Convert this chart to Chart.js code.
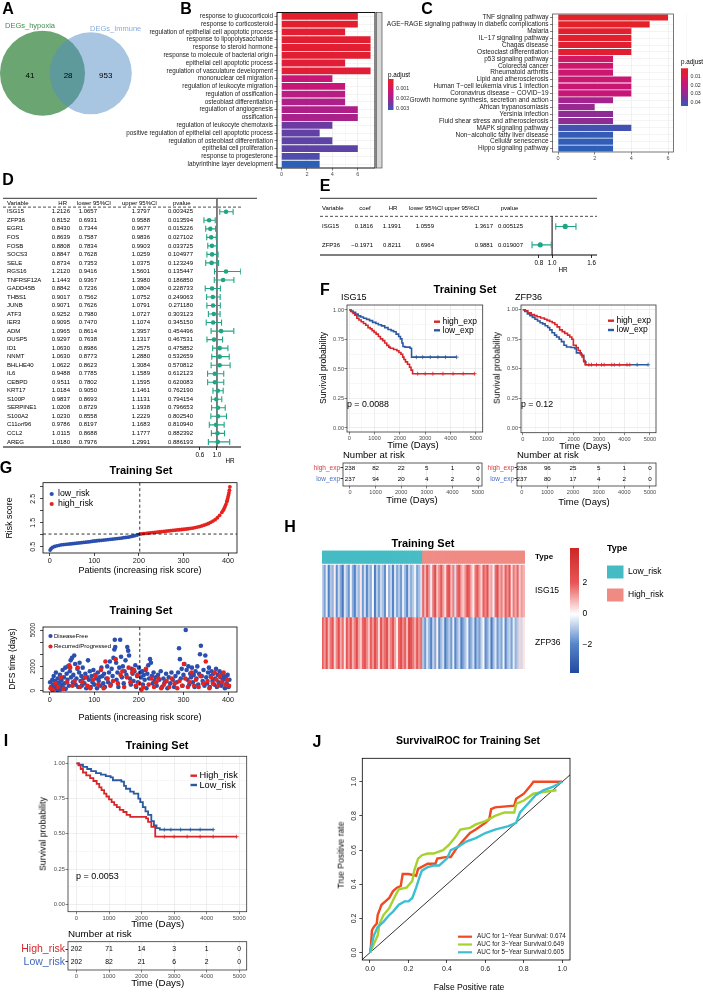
<!DOCTYPE html>
<html>
<head>
<meta charset="utf-8">
<title>Figure</title>
<script src="https://cdn.jsdelivr.net/npm/chart.js@4.4.1/dist/chart.umd.min.js"></script>
<style>
  body { margin: 0; background: #fff; }
  #fig { position: relative; width: 703px; height: 992px; overflow: hidden; font-family: 'Liberation Sans', Arial, sans-serif; }
  #fig canvas { position: absolute; left: 0; top: 0; }
  .t { position: absolute; line-height: 1; white-space: nowrap; }
</style>
</head>
<body>
<div id="fig"></div>
<script>
// ---------- A: Venn ----------
const vennNames = ['DEGs_hypoxia', 'DEGs_Immune'];
const vennCounts = [41, 28, 953]; // hypoxia only, shared, immune only

// ---------- B: GO enrichment ----------
const goTerms = ['response to glucocorticoid', 'response to corticosteroid', 'regulation of epithelial cell apoptotic process',
  'response to lipopolysaccharide', 'response to steroid hormone', 'response to molecule of bacterial origin',
  'epithelial cell apoptotic process', 'regulation of vasculature development', 'mononuclear cell migration',
  'regulation of leukocyte migration', 'regulation of ossification', 'osteoblast differentiation',
  'regulation of angiogenesis', 'ossification', 'regulation of leukocyte chemotaxis',
  'positive regulation of epithelial cell apoptotic process', 'regulation of osteoblast differentiation',
  'epithelial cell proliferation', 'response to progesterone', 'labyrinthine layer development'];
const goCounts = [6, 6, 5, 7, 7, 7, 5, 7, 4, 5, 5, 5, 6, 6, 4, 3, 4, 6, 3, 3];
const goPadj = [0.0001, 0.0001, 0.0002, 0.0002, 0.0002, 0.0002, 0.0003, 0.0003, 0.00124, 0.00124,
  0.00155, 0.0017, 0.0017, 0.0018, 0.00254, 0.00264, 0.00267, 0.00267, 0.0028, 0.0031];
const goLegend = [0.001, 0.002, 0.003];

// ---------- C: KEGG enrichment ----------
const keggTerms = ['TNF signaling pathway', 'AGE\u2212RAGE signaling pathway in diabetic complications', 'Malaria',
  'IL\u221217 signaling pathway', 'Chagas disease', 'Osteoclast differentiation', 'p53 signaling pathway',
  'Colorectal cancer', 'Rheumatoid arthritis', 'Lipid and atherosclerosis', 'Human T\u2212cell leukemia virus 1 infection',
  'Coronavirus disease \u2212 COVID\u221219', 'Growth hormone synthesis, secretion and action', 'African trypanosomiasis',
  'Yersinia infection', 'Fluid shear stress and atherosclerosis', 'MAPK signaling pathway',
  'Non\u2212alcoholic fatty liver disease', 'Cellular senescence', 'Hippo signaling pathway'];
const keggCounts = [6, 5, 4, 4, 4, 4, 3, 3, 3, 4, 4, 4, 3, 2, 3, 3, 4, 3, 3, 3];
const keggPadj = [0.0010, 0.0014, 0.0030, 0.0031, 0.0032, 0.0036, 0.0150, 0.0160, 0.0170, 0.0172,
  0.0175, 0.0180, 0.0270, 0.0290, 0.0305, 0.0310, 0.0410, 0.0430, 0.0432, 0.0437];
const keggLegend = [0.01, 0.02, 0.03, 0.04];

// ---------- D: univariate Cox ----------
const coxGenes = ['ISG15', 'ZFP36', 'EGR1', 'FOS', 'FOSB', 'SOCS3', 'SELE', 'RGS16', 'TNFRSF12A', 'GADD45B', 'THBS1',
  'JUNB', 'ATF3', 'IER3', 'ADM', 'DUSP5', 'ID1', 'NNMT', 'BHLHE40', 'IL6', 'CEBPD', 'KRT17', 'S100P', 'SERPINE1',
  'S100A2', 'C11orf96', 'CCL2', 'AREG'];
const coxHR = [1.2126, 0.8152, 0.8430, 0.8639, 0.8808, 0.8847, 0.8734, 1.2120, 1.1443, 0.8842, 0.9017, 0.9071, 0.9252,
  0.9095, 1.0965, 0.9297, 1.0630, 1.0630, 1.0622, 0.9488, 0.9511, 1.0184, 0.9837, 1.0208, 1.0230, 0.9786, 1.0115, 1.0180];
const coxLo = [1.0657, 0.6931, 0.7344, 0.7587, 0.7834, 0.7628, 0.7353, 0.9416, 0.9367, 0.7236, 0.7562, 0.7626, 0.7980,
  0.7470, 0.8614, 0.7638, 0.8986, 0.8773, 0.8623, 0.7785, 0.7802, 0.9050, 0.8693, 0.8729, 0.8558, 0.8197, 0.8688, 0.7976];
const coxHi = [1.3797, 0.9588, 0.9677, 0.9836, 0.9903, 1.0259, 1.0375, 1.5601, 1.3980, 1.0804, 1.0752, 1.0791, 1.0727,
  1.1074, 1.3957, 1.1317, 1.2575, 1.2880, 1.3084, 1.1589, 1.1595, 1.1461, 1.1131, 1.1938, 1.2229, 1.1683, 1.1777, 1.2991];
const coxP = [0.003425, 0.013594, 0.015226, 0.027102, 0.033725, 0.104977, 0.123249, 0.135447, 0.186850, 0.228733,
  0.249063, 0.271180, 0.303123, 0.345150, 0.454496, 0.467531, 0.475852, 0.532659, 0.570812, 0.612123, 0.620083,
  0.762190, 0.794154, 0.796653, 0.802540, 0.810940, 0.882392, 0.886193];
const coxTicks = [0.6, 1];

// ---------- E: multivariate Cox ----------
const sigGenes = ['ISG15', 'ZFP36'];
const sigCoef = ['0.1816', '\u22120.1971'];
const sigHR = [1.1991, 0.8211];
const sigLo = [1.0559, 0.6964];
const sigHi = [1.3617, 0.9881];
const sigP = [0.005125, 0.019007];
const sigTicks = [0.8, 1, 1.6];

// ---------- F / I: Kaplan-Meier (days, survival) ----------
const kmTimeTicks = [0, 1000, 2000, 3000, 4000, 5000];
const kmSurvTicks = [0, 0.25, 0.5, 0.75, 1];
const isg15High = [[0, 1], [80, 0.985], [150, 0.97], [220, 0.955], [300, 0.93], [380, 0.915], [470, 0.9], [560, 0.885],
  [650, 0.87], [740, 0.85], [830, 0.84], [900, 0.825], [980, 0.81], [1060, 0.795], [1150, 0.775], [1230, 0.755],
  [1320, 0.74], [1400, 0.72], [1480, 0.7], [1560, 0.685], [1620, 0.675], [1750, 0.665], [1880, 0.655], [1960, 0.64],
  [2040, 0.625], [2110, 0.6], [2160, 0.58], [2220, 0.56], [2300, 0.54], [2380, 0.515], [2440, 0.49], [2500, 0.46], [4950, 0.46]];
const isg15Low = [[0, 1], [60, 0.99], [150, 0.98], [250, 0.965], [350, 0.95], [450, 0.94], [560, 0.93], [680, 0.92],
  [800, 0.91], [920, 0.895], [1050, 0.885], [1150, 0.875], [1270, 0.865], [1400, 0.85], [1530, 0.835], [1650, 0.825],
  [1750, 0.815], [1850, 0.795], [1950, 0.775], [2020, 0.755], [2080, 0.72], [2120, 0.69], [2200, 0.685], [2400, 0.675],
  [2460, 0.6], [4240, 0.6]];
const zfp36High = [[0, 1], [100, 0.99], [200, 0.975], [330, 0.96], [450, 0.95], [560, 0.94], [700, 0.93], [850, 0.92],
  [950, 0.91], [1060, 0.9], [1160, 0.89], [1260, 0.875], [1350, 0.855], [1450, 0.83], [1550, 0.815], [1650, 0.8],
  [1760, 0.785], [1850, 0.77], [1930, 0.75], [1990, 0.7], [2100, 0.68], [2180, 0.655], [2260, 0.625], [2330, 0.6],
  [2390, 0.57], [2450, 0.535], [4210, 0.535]];
const zfp36Low = [[0, 1], [80, 0.985], [180, 0.965], [280, 0.95], [380, 0.935], [480, 0.92], [580, 0.905], [680, 0.89],
  [780, 0.88], [880, 0.865], [980, 0.85], [1060, 0.83], [1150, 0.805], [1250, 0.785], [1330, 0.77], [1430, 0.75],
  [1520, 0.73], [1620, 0.7], [1720, 0.685], [1900, 0.68], [2050, 0.67], [2110, 0.635], [2300, 0.615], [2400, 0.56],
  [2480, 0.535], [4930, 0.535]];
const riskHigh = [[0, 1], [60, 0.985], [130, 0.96], [200, 0.935], [300, 0.915], [420, 0.895], [520, 0.875], [620, 0.855],
  [700, 0.83], [770, 0.81], [850, 0.785], [920, 0.765], [1000, 0.745], [1080, 0.725], [1160, 0.705], [1240, 0.69],
  [1330, 0.67], [1440, 0.655], [1540, 0.635], [1650, 0.62], [2140, 0.61], [2200, 0.585], [2300, 0.55], [2420, 0.48], [4920, 0.48]];
const riskLow = [[0, 1], [80, 0.99], [200, 0.975], [330, 0.96], [450, 0.945], [600, 0.93], [750, 0.92], [900, 0.91],
  [1050, 0.9], [1120, 0.88], [1380, 0.87], [1460, 0.84], [1520, 0.82], [1650, 0.8], [1760, 0.785], [1900, 0.75],
  [1960, 0.725], [2040, 0.69], [2120, 0.66], [2200, 0.635], [2300, 0.59], [2380, 0.56], [2460, 0.54], [2560, 0.53], [4200, 0.53]];
const isg15HighCens = [2700, 3000, 3300, 3700, 4100, 4500, 4950];
const isg15LowCens = [2650, 2900, 3200, 3500, 3800, 4240];
const zfp36HighCens = [2600, 2900, 3200, 3500, 3800, 4210];
const zfp36LowCens = [2700, 3100, 3600, 4100, 4500, 4930];
const riskHighCens = [2700, 3000, 3400, 3800, 4200, 4920];
const riskLowCens = [2700, 2900, 3200, 3500, 3800, 4200];
const isg15AtRisk = { high: [238, 82, 22, 5, 1, 0], low: [237, 94, 20, 4, 2, 0] };
const zfp36AtRisk = { high: [238, 96, 25, 5, 1, 0], low: [237, 80, 17, 4, 2, 0] };
const riskAtRisk = { high: [202, 71, 14, 3, 1, 0], low: [202, 82, 21, 6, 2, 0] };

// ---------- G: risk score curve and DFS scatter ----------
const riskCut = 202;
const riskPatient = [1, 3, 6, 11, 16, 21, 26, 31, 36, 41, 46, 51, 56, 61, 66, 71, 76, 81, 86, 91, 96, 101, 106, 111, 116,
  121, 126, 131, 136, 141, 146, 151, 156, 161, 166, 171, 176, 181, 186, 191, 196, 201, 206, 211, 216, 221, 226, 231, 236,
  241, 246, 251, 256, 261, 266, 271, 276, 281, 286, 291, 296, 301, 306, 311, 316, 321, 326, 331, 336, 341, 346, 351, 356,
  361, 366, 371, 376, 381, 386, 389, 391, 393, 395, 397, 398, 399, 400, 401, 402, 403, 404];
const riskScore = [0.36, 0.42, 0.47, 0.51, 0.54, 0.56, 0.58, 0.59, 0.6, 0.61, 0.62, 0.63, 0.64, 0.65, 0.66, 0.67, 0.68,
  0.69, 0.7, 0.71, 0.73, 0.74, 0.75, 0.76, 0.77, 0.78, 0.79, 0.8, 0.81, 0.82, 0.83, 0.84, 0.85, 0.86, 0.88, 0.89, 0.9,
  0.92, 0.94, 0.96, 0.99, 1.02, 1.04, 1.05, 1.06, 1.07, 1.08, 1.09, 1.1, 1.11, 1.12, 1.13, 1.14, 1.15, 1.16, 1.17, 1.18,
  1.19, 1.2, 1.21, 1.22, 1.23, 1.24, 1.25, 1.27, 1.28, 1.3, 1.32, 1.34, 1.37, 1.4, 1.43, 1.47, 1.52, 1.57, 1.63, 1.71,
  1.81, 1.93, 2.02, 2.09, 2.17, 2.26, 2.37, 2.43, 2.5, 2.58, 2.66, 2.75, 2.86, 3.0];
const riskCutScore = 1.03;
const dfsFree = [[1, 700], [3, 300], [5, 100], [6, 900], [8, 500], [9, 1200], [11, 200], [12, 800], [14, 1500], [15, 400],
  [17, 50], [18, 1000], [20, 650], [21, 300], [23, 1300], [24, 100], [26, 850], [27, 500], [29, 1700], [30, 250], [32, 1100],
  [33, 600], [35, 1900], [36, 150], [38, 1400], [40, 900], [41, 2000], [43, 400], [45, 1600], [47, 2500], [48, 1100],
  [50, 2700], [52, 700], [53, 1300], [55, 2900], [57, 2200], [58, 500], [60, 1000], [62, 1800], [64, 300], [66, 1500],
  [67, 2300], [69, 800], [71, 1200], [72, 400], [74, 1900], [76, 1000], [78, 600], [80, 1400], [82, 200], [84, 1100],
  [86, 2500], [88, 900], [90, 1600], [92, 300], [94, 1200], [96, 700], [98, 1700], [100, 500], [102, 1300], [104, 1000],
  [106, 200], [108, 1500], [110, 800], [112, 1100], [114, 400], [116, 1900], [118, 1200], [120, 600], [122, 1400],
  [124, 300], [127, 1000], [129, 2000], [131, 700], [133, 1500], [135, 2400], [137, 500], [139, 1800], [141, 1200],
  [143, 2700], [145, 3400], [146, 4200], [147, 3600], [149, 2300], [150, 900], [152, 1500], [154, 300], [156, 1900],
  [158, 4200], [160, 2800], [162, 1100], [164, 2000], [166, 600], [168, 1600], [170, 2500], [172, 1300], [174, 3600],
  [176, 3300], [178, 2900], [180, 1000], [182, 500], [184, 1800], [186, 1400], [188, 800], [190, 1600], [192, 2100],
  [194, 300], [196, 1200], [198, 700], [200, 1900], [203, 1500], [205, 1100], [207, 1600], [209, 500], [211, 1300],
  [213, 900], [215, 1700], [217, 200], [219, 1400], [221, 2100], [223, 1000], [225, 2600], [227, 2300], [229, 1200],
  [231, 600], [233, 1500], [235, 800], [238, 1100], [240, 400], [243, 1300], [246, 900], [249, 1600], [252, 300],
  [255, 1000], [258, 700], [261, 1400], [264, 200], [267, 1100], [270, 600], [273, 1500], [276, 900], [279, 300],
  [282, 1200], [285, 700], [288, 1500], [290, 3500], [292, 2600], [294, 1000], [296, 1800], [298, 400], [300, 1300],
  [302, 2200], [305, 5000], [307, 1700], [309, 900], [311, 2000], [313, 500], [315, 1400], [317, 1100], [319, 1900],
  [321, 700], [323, 1300], [325, 300], [327, 1600], [329, 1000], [331, 2000], [333, 500], [335, 1400], [337, 3000],
  [339, 3700], [341, 1200], [343, 800], [345, 1700], [347, 400], [349, 2900], [351, 1100], [353, 600], [355, 1500],
  [357, 1900], [359, 300], [361, 1200], [363, 1600], [365, 800], [367, 1400], [369, 500], [371, 1000], [373, 1800],
  [375, 300], [377, 1300], [379, 700], [381, 1600], [383, 1100], [385, 400], [387, 1400], [389, 900], [391, 1200],
  [393, 200], [395, 1000], [397, 600], [399, 1300], [401, 300], [403, 900]];
const dfsEvent = [[2, 200], [7, 50], [13, 600], [19, 300], [25, 1100], [31, 150], [39, 700], [44, 2100], [46, 1900],
  [51, 400], [56, 800], [63, 1900], [68, 300], [73, 700], [79, 1100], [85, 400], [91, 200], [97, 900], [103, 1200],
  [109, 500], [115, 1700], [121, 200], [125, 2400], [130, 1000], [136, 400], [142, 800], [148, 2600], [153, 600],
  [159, 1300], [163, 1600], [167, 300], [173, 1100], [177, 1900], [181, 700], [185, 1500], [189, 1700], [193, 400],
  [197, 1300], [201, 600], [206, 100], [210, 300], [216, 1800], [222, 500], [228, 1000], [234, 300], [239, 700],
  [244, 1000], [250, 200], [256, 500], [262, 800], [268, 300], [274, 1000], [280, 600], [286, 200], [291, 800],
  [297, 400], [301, 2200], [304, 1000], [310, 300], [314, 700], [318, 1500], [324, 400], [328, 900], [334, 300],
  [338, 1200], [344, 600], [350, 2400], [354, 800], [358, 200], [362, 1100], [366, 600], [370, 1500], [374, 900],
  [378, 400], [382, 1200], [386, 700], [390, 1500], [394, 500], [398, 900], [402, 400]];

// ---------- H: heatmap (z-scores, patients sorted by risk, 4 patients per column) ----------
const hmLowCols = 50;
const isg15Heat = [-0.8, -1.5, -0.3, -2.1, -0.9, -1.2, 0.2, -1.8, -0.6, -1.4, -2.3, -0.4, -1.0, -1.7, -0.2, -1.3, -2.0,
  -0.7, -1.1, 0.3, -1.6, -0.5, -1.9, -0.9, -1.3, -0.1, -2.2, -0.8, -1.5, -0.6, -1.0, -1.8, 0.1, -1.2, -0.7, -2.0, -0.4,
  -1.4, -0.9, -1.6, -0.3, -1.1, -1.9, -0.6, -1.3, -0.8, -0.2, -1.5, -1.0, -0.5,
  1.8, 0.9, 2.2, 1.2, -0.3, 1.6, 2.5, 0.7, 1.4, 2.0, 1.1, 0.4, 1.9, 2.3, 0.8, 1.5, -0.5, 1.7, 2.1, 1.0, 0.6, 1.3, 2.4,
  1.8, 0.9, 0.2, 1.6, 2.0, 1.2, 0.5, 1.9, 1.4, 2.2, 0.8, 1.1, -0.2, 1.7, 2.3, 1.0, 1.5, 0.7, 1.9, 1.3, 2.1, 0.4, 1.6,
  1.0, 1.8, 0.6, 1.2, 0.9];
const zfp36Heat = [1.9, 1.2, 2.3, 0.8, 1.6, 2.1, 0.5, 1.4, 2.4, 1.0, 1.7, 0.3, 2.0, 1.3, 2.2, 0.9, 1.5, 2.5, 1.1, 0.6,
  1.8, 2.2, 1.4, 0.7, 1.9, 1.2, 2.4, 1.6, 0.4, 2.0, 1.3, 1.7, 2.3, 0.9, 1.5, 2.1, 1.1, 0.2, 1.8, 2.4, 1.4, 1.9, 0.8,
  2.6, 2.2, 1.6, 1.0, 2.0, 1.3, 1.7,
  -0.9, -1.6, -0.4, -1.2, -2.0, -0.7, -1.4, 0.2, -1.8, -1.0, -0.5, -2.2, -1.3, -0.8, -1.6, -0.3, -1.9, -1.1, -0.6, -2.1,
  -1.4, -0.9, -0.2, -1.7, -1.2, -0.5, -2.0, -1.0, -1.5, -0.7, 0.1, -1.8, -1.3, -0.6, -2.3, -1.1, -0.4, -1.6, -0.9, -1.4,
  -0.2, -1.9, -1.0, -0.7, -1.5, -0.3, -1.2, -0.8, 0.5, -0.6, 0.3];
const heatLegend = [2, 0, -2];

// ---------- J: time-dependent ROC ----------
const roc1x = [0, 0.005, 0.01, 0.02, 0.035, 0.04, 0.05, 0.06, 0.08, 0.1, 0.12, 0.14, 0.16, 0.17, 0.2, 0.24, 0.25, 0.3,
  0.34, 0.35, 0.4, 0.42, 0.45, 0.48, 0.52, 0.55, 0.6, 0.62, 0.63, 0.65, 0.75, 0.76, 0.8, 0.83, 0.85, 0.95, 1];
const roc1y = [0, 0.04, 0.13, 0.15, 0.17, 0.22, 0.25, 0.28, 0.3, 0.32, 0.36, 0.38, 0.39, 0.46, 0.46, 0.45, 0.49, 0.52,
  0.52, 0.55, 0.56, 0.56, 0.61, 0.65, 0.7, 0.72, 0.76, 0.78, 0.84, 0.85, 0.86, 0.9, 0.93, 0.97, 1, 1, 1];
const roc3x = [0, 0.02, 0.04, 0.05, 0.07, 0.1, 0.13, 0.15, 0.19, 0.22, 0.23, 0.25, 0.27, 0.3, 0.33, 0.38, 0.41, 0.44,
  0.47, 0.52, 0.55, 0.6, 0.65, 0.7, 0.75, 0.76, 0.8, 0.85, 0.9, 0.97];
const roc3y = [0, 0.05, 0.1, 0.17, 0.22, 0.26, 0.33, 0.37, 0.38, 0.42, 0.48, 0.55, 0.57, 0.58, 0.58, 0.6, 0.63, 0.67,
  0.72, 0.73, 0.75, 0.77, 0.8, 0.82, 0.82, 0.87, 0.89, 0.93, 0.94, 0.95];
const roc5x = [0, 0.02, 0.04, 0.07, 0.1, 0.12, 0.15, 0.18, 0.2, 0.22, 0.24, 0.26, 0.27, 0.3, 0.33, 0.36, 0.4, 0.42,
  0.46, 0.5, 0.55, 0.6, 0.65, 0.72, 0.76, 0.78, 0.82, 0.86, 0.9, 0.95, 1];
const roc5y = [0, 0.1, 0.15, 0.18, 0.22, 0.24, 0.28, 0.3, 0.3, 0.32, 0.38, 0.45, 0.48, 0.5, 0.51, 0.51, 0.55, 0.6,
  0.62, 0.65, 0.67, 0.7, 0.72, 0.74, 0.76, 0.82, 0.87, 0.92, 0.95, 0.97, 1];
const rocLabels = ['AUC for 1\u2212Year Survival: 0.674', 'AUC for 3\u2212Year Survival:0.649', 'AUC for 5\u2212Year Survival:0.605'];
const rocTicks = [0, 0.2, 0.4, 0.6, 0.8, 1];

// ================= drawing =================
const FONT = "'Liberation Sans', Arial, Helvetica, sans-serif";
const W = 703, H = 992;
const RED = '#d7262b', BLUE = '#2c5aa0', TEAL = '#1fa584';
const fig = document.getElementById('fig');

Chart.defaults.font.family = FONT;
Chart.defaults.color = '#000';
Chart.defaults.plugins.legend.display = false;
Chart.defaults.plugins.tooltip.enabled = false;
Chart.defaults.layout.autoPadding = false;

function canvas() {
  const c = document.createElement('canvas');
  c.width = W; c.height = H;
  fig.appendChild(c);
  return c;
}
// padding so that the plot area lands on page box L,T,R,B
function pad(L, T, R, B, yw = 0, xh = 0, yRight = false) {
  return yRight ? { left: L, top: T, right: W - R - yw, bottom: H - B - xh }
    : { left: L - yw, top: T, right: W - R, bottom: H - B - xh };
}
const fitW = w => s => { s.width = w; s.paddingTop = 0; s.paddingBottom = 0; };
const fitH = h => s => { s.height = h; s.paddingLeft = 0; s.paddingRight = 0; };
const base = o => Object.assign({ responsive: false, maintainAspectRatio: false, devicePixelRatio: 1, animation: false, events: [] }, o);
const at = vals => s => { s.ticks = vals.map(v => ({ value: v })); };

let pid = 0;
function deco(fn, when = 'afterDraw') {
  return { id: 'deco' + (pid++), [when](ch) { const c = ch.ctx; c.save(); fn(c, ch); c.restore(); } };
}
function frame(color = '#333', lw = 0.8) {
  return deco((c, ch) => {
    const a = ch.chartArea;
    c.strokeStyle = color; c.lineWidth = lw;
    c.strokeRect(a.left, a.top, a.right - a.left, a.bottom - a.top);
  }, 'afterDatasetsDraw');
}
function text(c, s, x, y, size, o = {}) {
  c.save();
  c.font = (o.bold ? 'bold ' : '') + size + 'px ' + FONT;
  c.fillStyle = o.color || '#000';
  c.textAlign = o.align || 'left';
  c.textBaseline = 'middle';
  c.translate(x, y);
  if (o.rot) c.rotate(-Math.PI / 2);
  c.fillText(s, 0, 0);
  c.restore();
}
function hline(c, x1, x2, y, lw = 0.8, dash) {
  c.save(); c.strokeStyle = '#000'; c.lineWidth = lw; if (dash) c.setLineDash(dash);
  c.beginPath(); c.moveTo(x1, y); c.lineTo(x2, y); c.stroke(); c.restore();
}
function vline(c, x, y1, y2, lw = 0.8, dash) {
  c.save(); c.strokeStyle = '#000'; c.lineWidth = lw; if (dash) c.setLineDash(dash);
  c.beginPath(); c.moveTo(x, y1); c.lineTo(x, y2); c.stroke(); c.restore();
}
function label(s, x, y, size, o = {}) {
  const d = document.createElement('div');
  d.className = 't';
  d.textContent = s;
  const tx = o.align === 'center' ? '-50%' : o.align === 'right' ? '-100%' : '0';
  d.style.left = x + 'px'; d.style.top = y + 'px'; d.style.fontSize = size + 'px';
  if (o.bold) d.style.fontWeight = 'bold';
  if (o.color) d.style.color = o.color;
  d.style.transform = 'translate(' + tx + ',-50%)' + (o.rot ? ' rotate(-90deg)' : '');
  fig.appendChild(d);
}

// red -> magenta -> blue scale used by the enrichment plots
const padjStops = [[0, [228, 32, 40]], [0.2, [222, 28, 70]], [0.4, [200, 22, 120]], [0.6, [165, 35, 140]],
  [0.8, [115, 55, 158]], [1, [45, 95, 185]]];
function rampColor(stops, t) {
  t = Math.max(0, Math.min(1, t));
  for (let i = 1; i < stops.length; i++) {
    if (t <= stops[i][0]) {
      const a = stops[i - 1], b = stops[i], f = (t - a[0]) / (b[0] - a[0]);
      const rgb = a[1].map((v, k) => Math.round(v + (b[1][k] - v) * f));
      return 'rgb(' + rgb.join(',') + ')';
    }
  }
  return 'rgb(' + stops[stops.length - 1][1].join(',') + ')';
}
function colorbar(c, x, y, w, h, stops) {
  const g = c.createLinearGradient(0, y, 0, y + h);
  stops.forEach(s => g.addColorStop(s[0], 'rgb(' + s[1].join(',') + ')'));
  c.fillStyle = g; c.fillRect(x, y, w, h);
}

// ---------- A ----------
new Chart(canvas(), {
  type: 'bubble',
  data: { datasets: [
    { data: [{ x: 1, y: 0, r: 41 }], backgroundColor: 'rgba(81,141,197,0.5)', borderWidth: 0, clip: false },
    { data: [{ x: 0, y: 0, r: 42.5 }], backgroundColor: '#6ba572', borderWidth: 0, clip: false }
  ] },
  options: base({
    layout: { padding: pad(0, 23.3, 180, 123.3) },
    scales: { x: { display: false, min: -0.88, max: 2.847 }, y: { display: false, min: -1, max: 1 } }
  }),
  plugins: [deco((c, ch) => {
    const x = ch.scales.x, y = ch.scales.y.getPixelForValue(0) + 2.5;
    text(c, String(vennCounts[0]), x.getPixelForValue(-0.26), y, 8, { align: 'center' });
    text(c, String(vennCounts[1]), x.getPixelForValue(0.53), y, 8, { align: 'center' });
    text(c, String(vennCounts[2]), x.getPixelForValue(1.31), y, 8, { align: 'center' });
    text(c, vennNames[0], 5, 25.5, 7.5, { color: '#3f8f4c' });
    text(c, vennNames[1], 90, 28.5, 7.5, { color: '#86add9' });
  })]
});

// ---------- B / C ----------
function enrich(o) {
  const span = o.pmax - o.pmin;
  new Chart(canvas(), {
    type: 'bar',
    data: { labels: o.terms, datasets: [{
      data: o.counts, backgroundColor: o.padj.map(p => rampColor(padjStops, (p - o.pmin) / span)),
      barPercentage: 0.88, categoryPercentage: 1, borderWidth: 0
    }] },
    options: base({
      indexAxis: 'y',
      layout: { padding: pad(o.L, o.T, o.R, o.B, o.yw, 11) },
      scales: {
        x: { type: 'linear', min: o.xmin, max: o.xmax, afterBuildTicks: at([0, 1, 2, 3, 4, 5, 6, 7]),
          ticks: { autoSkip: false, maxRotation: 0, font: { size: 5.5 }, color: '#4d4d4d', padding: 1,
            callback: v => (v % 2 === 0 && v <= o.xmax ? String(v) : '') },
          grid: { color: c => (c.tick && c.tick.value % 2 ? '#f4f4f4' : '#e6e6e6'), lineWidth: 0.6, tickLength: 2.5,
            tickColor: c => (c.tick && c.tick.value % 2 ? 'rgba(0,0,0,0)' : '#333') },
          border: { display: false }, afterFit: fitH(11) },
        y: { ticks: { autoSkip: false, font: { size: o.fs }, color: '#1a1a1a', padding: 1.5 },
          grid: { color: '#ececec', lineWidth: 0.6, offset: false, tickLength: 2.5, tickColor: '#333' },
          border: { display: false }, afterFit: fitW(o.yw) }
      }
    }),
    plugins: [frame(o.frameColor, o.frameW), deco(c => {
      if (o.strip) {
        c.fillStyle = '#d9d9d9'; c.fillRect(o.R + 1.5, o.T, 5.5, o.B - o.T);
        c.strokeStyle = '#333'; c.lineWidth = 0.6; c.strokeRect(o.R + 1.5, o.T, 5.5, o.B - o.T);
      }
      text(c, 'p.adjust', o.lg.x, o.lg.ty, 6.3);
      colorbar(c, o.lg.x, o.lg.y, o.lg.w, o.lg.h, padjStops);
      o.lg.vals.forEach(v => {
        const py = o.lg.y + (v - o.pmin) / span * o.lg.h;
        text(c, String(v), o.lg.x + o.lg.w + 2.5, py, 5.3, { color: '#333' });
      });
    })]
  });
}
enrich({ terms: goTerms, counts: goCounts, padj: goPadj, pmin: 0, pmax: 0.0031, L: 277, T: 12.5, R: 375, B: 168,
  yw: 162, xmin: -0.35, xmax: 7.35, fs: 6.3, frameColor: '#111', frameW: 1, strip: true,
  lg: { x: 388, ty: 75, y: 79, w: 5.5, h: 31, vals: goLegend } });
enrich({ terms: keggTerms, counts: keggCounts, padj: keggPadj, pmin: 0.001, pmax: 0.0437, L: 552.5, T: 14, R: 673.5, B: 152,
  yw: 168, xmin: -0.3, xmax: 6.3, fs: 6.5, frameColor: '#555', frameW: 0.8, strip: false,
  lg: { x: 681, ty: 62.5, y: 68.3, w: 7, h: 37.7, vals: keggLegend } });

// ---------- D / E forest plots ----------
function forestSets(hr, lo, hi, cap, dot) {
  const seg = [], caps = [], pts = [];
  hr.forEach((v, i) => {
    seg.push({ x: lo[i], y: i }, { x: hi[i], y: i }, { x: hi[i], y: null });
    caps.push({ x: lo[i], y: i }, { x: hi[i], y: i });
    pts.push({ x: v, y: i });
  });
  return [
    { data: pts, pointStyle: 'circle', pointRadius: dot, pointBackgroundColor: TEAL, pointBorderWidth: 0 },
    { data: caps, pointStyle: 'line', pointRotation: 90, pointRadius: cap, pointBorderColor: TEAL, pointBorderWidth: 1.1 },
    { data: seg, showLine: true, spanGaps: false, borderColor: TEAL, borderWidth: 1.1, pointRadius: 0 }
  ];
}
const fmt4 = v => v.toFixed(4), fmt6 = v => v.toFixed(6);

new Chart(canvas(), {
  type: 'scatter',
  data: { datasets: forestSets(coxHR, coxLo, coxHi, 3, 2.3) },
  options: base({
    layout: { padding: pad(197, 199, 241, 447, 0, 13) },
    scales: {
      x: { type: 'linear', min: 0.53, max: 1.565, afterBuildTicks: at(coxTicks),
        ticks: { autoSkip: false, maxRotation: 0, font: { size: 6.3 }, padding: 1 },
        grid: { drawOnChartArea: false, tickLength: 3, tickColor: '#000', tickWidth: 0.8 },
        border: { display: false }, afterFit: fitH(13) },
      y: { display: false, min: -1.5, max: 27.6, reverse: true }
    }
  }),
  plugins: [deco((c, ch) => {
    const x = ch.scales.x, y = ch.scales.y, a = ch.chartArea;
    hline(c, 3, 257, 198.3);
    hline(c, 3, 241, y.getPixelForValue(-0.55), 0.7, [3, 2]);
    hline(c, 3, 241, a.bottom, 1);
    vline(c, x.getPixelForValue(1), a.top, a.bottom, 1);
  }, 'beforeDatasetsDraw'), deco((c, ch) => {
    const y = ch.scales.y, fs = 6;
    const hy = y.getPixelForValue(-1);
    text(c, 'Variable', 7, hy, fs);
    text(c, 'HR', 67, hy, fs, { align: 'right' });
    text(c, 'lower 95%CI', 77, hy, fs);
    text(c, 'upper 95%CI', 122, hy, fs);
    text(c, 'pvalue', 173, hy, fs);
    coxGenes.forEach((g, i) => {
      const py = y.getPixelForValue(i);
      text(c, g, 7, py, fs);
      text(c, fmt4(coxHR[i]), 70, py, fs, { align: 'right' });
      text(c, fmt4(coxLo[i]), 97, py, fs, { align: 'right' });
      text(c, fmt4(coxHi[i]), 150, py, fs, { align: 'right' });
      text(c, fmt6(coxP[i]), 193, py, fs, { align: 'right' });
    });
    text(c, 'HR', 230, 461, 6.3, { align: 'center' });
  })]
});

new Chart(canvas(), {
  type: 'scatter',
  data: { datasets: forestSets(sigHR, sigLo, sigHi, 3.3, 2.6) },
  options: base({
    layout: { padding: pad(525, 197, 597, 255, 0, 12) },
    scales: {
      x: { type: 'linear', min: 0.59, max: 1.68, afterBuildTicks: at(sigTicks),
        ticks: { autoSkip: false, maxRotation: 0, font: { size: 6.3 }, padding: 1 },
        grid: { drawOnChartArea: false, tickLength: 3, tickColor: '#000', tickWidth: 0.8 },
        border: { display: false }, afterFit: fitH(12) },
      y: { display: false, min: -1.6, max: 1.55, reverse: true }
    }
  }),
  plugins: [deco((c, ch) => {
    const x = ch.scales.x, y = ch.scales.y, a = ch.chartArea;
    hline(c, 320, 597, 198.3);
    hline(c, 320, 597, y.getPixelForValue(-0.55), 0.7, [3, 2]);
    hline(c, 320, 597, a.bottom, 1);
    vline(c, x.getPixelForValue(1), y.getPixelForValue(-0.55), a.bottom, 1);
  }, 'beforeDatasetsDraw'), deco((c, ch) => {
    const y = ch.scales.y, fs = 6;
    const hy = y.getPixelForValue(-1);
    text(c, 'Variable', 322, hy, fs);
    text(c, 'coef', 365, hy, fs, { align: 'center' });
    text(c, 'HR', 393, hy, fs, { align: 'center' });
    text(c, 'lower 95%CI', 426, hy, fs, { align: 'center' });
    text(c, 'upper 95%CI', 462, hy, fs, { align: 'center' });
    text(c, 'pvalue', 509.5, hy, fs, { align: 'center' });
    sigGenes.forEach((g, i) => {
      const py = y.getPixelForValue(i);
      text(c, g, 322, py, fs);
      text(c, sigCoef[i], 373, py, fs, { align: 'right' });
      text(c, fmt4(sigHR[i]), 401, py, fs, { align: 'right' });
      text(c, fmt4(sigLo[i]), 434, py, fs, { align: 'right' });
      text(c, fmt4(sigHi[i]), 493, py, fs, { align: 'right' });
      text(c, fmt6(sigP[i]), 523, py, fs, { align: 'right' });
    });
    text(c, 'HR', 563, 270, 6.3, { align: 'center' });
  })]
});

// ---------- KM helpers ----------
const kmGridX = [0, 500, 1000, 1500, 2000, 2500, 3000, 3500, 4000, 4500, 5000];
const kmGridY = [0, 0.125, 0.25, 0.375, 0.5, 0.625, 0.75, 0.875, 1];
const isMaj = (list, c) => c.tick && list.includes(c.tick.value);
function stepValue(pts, t) { let s = pts[0][1]; pts.forEach(p => { if (p[0] <= t) s = p[1]; }); return s; }
function ggX(min, max, h, size, grid = kmGridX) {
  return { type: 'linear', min, max, afterBuildTicks: at(grid),
    ticks: { autoSkip: false, maxRotation: 0, font: { size }, color: '#4d4d4d', padding: 0.5,
      callback: v => (kmTimeTicks.includes(v) ? String(v) : '') },
    grid: { color: c => (isMaj(kmTimeTicks, c) ? '#e3e3e3' : '#f1f1f1'), lineWidth: 0.6, tickLength: 2.5,
      tickColor: c => (isMaj(kmTimeTicks, c) ? '#333' : 'rgba(0,0,0,0)') },
    border: { display: false }, afterFit: fitH(h) };
}
function ggY(min, max, w, size) {
  return { type: 'linear', min, max, afterBuildTicks: at(kmGridY),
    ticks: { autoSkip: false, font: { size }, color: '#4d4d4d', padding: 0.5,
      callback: v => (kmSurvTicks.includes(v) ? v.toFixed(2) : '') },
    grid: { color: c => (isMaj(kmSurvTicks, c) ? '#e3e3e3' : '#f1f1f1'), lineWidth: 0.6, tickLength: 2.5,
      tickColor: c => (isMaj(kmSurvTicks, c) ? '#333' : 'rgba(0,0,0,0)') },
    border: { display: false }, afterFit: fitW(w) };
}
function kmChart(o) {
  const ds = [];
  o.curves.forEach(cv => {
    ds.push({ data: cv.cens.map(t => ({ x: t, y: stepValue(cv.pts, t) })), pointStyle: 'cross', pointRadius: 2,
      pointBorderColor: cv.color, pointBorderWidth: 0.8 });
    ds.push({ data: cv.pts.map(p => ({ x: p[0], y: p[1] })), showLine: true, stepped: true, borderColor: cv.color,
      borderWidth: o.lw, pointRadius: 0 });
  });
  new Chart(canvas(), {
    type: 'scatter',
    data: { datasets: ds },
    options: base({
      layout: { padding: pad(o.L, o.T, o.R, o.B, o.yw, o.xh) },
      scales: { x: ggX(o.xmin, o.xmax, o.xh, o.ts), y: ggY(o.ymin, o.ymax, o.yw, o.ts) }
    }),
    plugins: [frame('#333', 0.8), deco(c => {
      o.curves.forEach((cv, i) => {
        const ly = o.leg.y + i * o.leg.dy;
        c.save(); c.strokeStyle = cv.color; c.lineWidth = 2.4;
        c.beginPath(); c.moveTo(o.leg.x, ly); c.lineTo(o.leg.x + o.leg.len, ly); c.stroke(); c.restore();
        text(c, cv.name, o.leg.x + o.leg.len + 2.5, ly, o.leg.fs);
      });
      text(c, o.pText, o.p.x, o.p.y, o.p.fs);
    })]
  });
}
function riskTable(o) {
  new Chart(canvas(), {
    type: 'scatter',
    data: { datasets: [] },
    options: base({
      layout: { padding: pad(o.L, o.T, o.R, o.B, o.yw, o.xh) },
      scales: {
        x: ggX(o.xmin, o.xmax, o.xh, o.ts, kmTimeTicks),
        y: { type: 'linear', min: o.ymin, max: o.ymax, reverse: true, afterBuildTicks: at([0, 1]),
          ticks: { autoSkip: false, font: { size: o.lfs }, padding: 0.5, color: c => o.rows[c.index].color,
            callback: (v, i) => o.rows[i].name },
          grid: { drawOnChartArea: false, tickLength: 2.5, tickColor: '#333' },
          border: { display: false }, afterFit: fitW(o.yw) }
      }
    }),
    plugins: [frame('#333', 0.8), deco((c, ch) => {
      const x = ch.scales.x, y = ch.scales.y;
      o.rows.forEach((r, i) => r.counts.forEach((n, j) =>
        text(c, String(n), x.getPixelForValue(kmTimeTicks[j]), y.getPixelForValue(i), o.nfs, { align: 'center' })));
    })]
  });
}

// ---------- F ----------
kmChart({ L: 347, T: 305, R: 482.7, B: 432, yw: 24, xh: 9, xmin: -90, xmax: 5270, ymin: -0.034, ymax: 1.042, ts: 5.6, lw: 1.6,
  curves: [{ name: 'high_exp', color: RED, pts: isg15High, cens: isg15HighCens },
    { name: 'low_exp', color: BLUE, pts: isg15Low, cens: isg15LowCens }],
  leg: { x: 434, y: 321.7, dy: 8.6, len: 6, fs: 8.5 }, pText: 'p = 0.0088', p: { x: 347, y: 404.3, fs: 8.8 } });
kmChart({ L: 521, T: 305, R: 656, B: 432.7, yw: 24, xh: 9, xmin: -70, xmax: 5240, ymin: -0.04, ymax: 1.04, ts: 5.6, lw: 1.6,
  curves: [{ name: 'high_exp', color: RED, pts: zfp36High, cens: zfp36HighCens },
    { name: 'low_exp', color: BLUE, pts: zfp36Low, cens: zfp36LowCens }],
  leg: { x: 608, y: 320.7, dy: 9.3, len: 6, fs: 8.5 }, pText: 'p = 0.12', p: { x: 521, y: 405, fs: 8.8 } });
riskTable({ L: 343, T: 463, R: 482, B: 486, yw: 34, xh: 9, xmin: -273, xmax: 5156, ymin: -0.45, ymax: 1.64, ts: 5.6,
  lfs: 6.5, nfs: 6.2, rows: [{ name: 'high_exp', color: '#d23a3a', counts: isg15AtRisk.high },
    { name: 'low_exp', color: '#4a6cc0', counts: isg15AtRisk.low }] });
riskTable({ L: 517, T: 463, R: 656, B: 486, yw: 34, xh: 9, xmin: -183, xmax: 5234, ymin: -0.45, ymax: 1.64, ts: 5.6,
  lfs: 6.5, nfs: 6.2, rows: [{ name: 'high_exp', color: '#d23a3a', counts: zfp36AtRisk.high },
    { name: 'low_exp', color: '#4a6cc0', counts: zfp36AtRisk.low }] });

// ---------- G ----------
const GBLUE = '#2b4fae', GRED = '#e4231f';
function rAxis(vals, min, max, size, h, showLabels = true) {
  return { type: 'linear', min, max, afterBuildTicks: at(vals),
    ticks: { display: showLabels, autoSkip: false, maxRotation: 0, font: { size }, color: '#222', padding: 1 },
    grid: { drawOnChartArea: false, tickLength: 3, tickColor: '#000', tickWidth: 0.7 },
    border: { display: false }, afterFit: s => { if (s.isHorizontal()) fitH(h)(s); else fitW(h)(s); } };
}
function rotLabels(vals, labels, xOff, size) {
  return deco((c, ch) => {
    const y = ch.scales.y, a = ch.chartArea;
    vals.forEach((v, i) => { if (labels[i] !== '') text(c, labels[i], a.left - xOff, y.getPixelForValue(v), size, { align: 'center', rot: true, color: '#222' }); });
  });
}
const riskPts = riskPatient.map((p, i) => ({ x: p, y: riskScore[i] }));
const riskYTicks = [0.5, 1, 1.5, 2, 2.5, 3];
new Chart(canvas(), {
  type: 'scatter',
  data: { datasets: [
    { data: riskPts.filter(d => d.x > riskCut), pointRadius: 1.9, pointBackgroundColor: GRED, pointBorderWidth: 0 },
    { data: riskPts.filter(d => d.x <= riskCut), pointRadius: 1.9, pointBackgroundColor: GBLUE, pointBorderWidth: 0 }
  ] },
  options: base({
    layout: { padding: pad(43, 482.7, 237, 553, 4, 14) },
    scales: { x: rAxis([0, 100, 200, 300, 400], -15, 420, 7.3, 14), y: rAxis(riskYTicks, 0.24, 3.17, 7, 4, false) }
  }),
  plugins: [frame('#000', 0.8), rotLabels(riskYTicks, ['0.5', '', '1.5', '', '2.5', ''], 9.5, 7),
    deco((c, ch) => {
      const x = ch.scales.x, y = ch.scales.y, a = ch.chartArea;
      vline(c, x.getPixelForValue(riskCut), a.top, a.bottom, 0.8, [3, 2.5]);
      hline(c, a.left, a.right, y.getPixelForValue(riskCutScore), 0.8, [3, 2.5]);
      c.fillStyle = GBLUE; c.beginPath(); c.arc(51.7, 494, 2.1, 0, 7); c.fill();
      c.fillStyle = GRED; c.beginPath(); c.arc(51.7, 504, 2.1, 0, 7); c.fill();
      text(c, 'low_risk', 58, 494, 8.8);
      text(c, 'high_risk', 58, 504, 8.8);
    })]
});
const dfsYTicks = [0, 1000, 2000, 3000, 4000, 5000];
new Chart(canvas(), {
  type: 'scatter',
  data: { datasets: [
    { data: dfsEvent.map(d => ({ x: d[0], y: d[1] })), pointRadius: 2.3, pointBackgroundColor: GRED, pointBorderWidth: 0 },
    { data: dfsFree.map(d => ({ x: d[0], y: d[1] })), pointRadius: 2.3, pointBackgroundColor: GBLUE, pointBorderWidth: 0 }
  ] },
  options: base({
    layout: { padding: pad(43, 627, 237, 692, 4, 14) },
    scales: { x: rAxis([0, 100, 200, 300, 400], -15, 420, 7.3, 14), y: rAxis(dfsYTicks, -110, 5250, 7, 4, false) }
  }),
  plugins: [frame('#000', 0.8), rotLabels(dfsYTicks, ['0', '', '2000', '', '', '5000'], 9.5, 6.5),
    deco((c, ch) => {
      const x = ch.scales.x, a = ch.chartArea;
      vline(c, x.getPixelForValue(riskCut), a.top, a.bottom, 0.8, [3, 2.5]);
      c.fillStyle = GBLUE; c.beginPath(); c.arc(50.5, 636, 2.1, 0, 7); c.fill();
      c.fillStyle = GRED; c.beginPath(); c.arc(50.5, 646.5, 2.1, 0, 7); c.fill();
      text(c, 'DiseaseFree', 54, 636, 6);
      text(c, 'Recurred/Progressed', 54, 646.5, 6);
    })]
});

// ---------- H ----------
const heatStops = [[0, [205, 38, 38]], [0.28, [232, 86, 86]], [0.53, [255, 255, 255]], [0.77, [84, 133, 201]], [1, [36, 72, 160]]];
function heatColor(v) { return rampColor(heatStops, (4.26 - v) / 8.06); }
const hmCols = isg15Heat.map((_, i) => i);
const hmType = hmCols.map(i => (i < hmLowCols ? 'Low_risk' : 'High_risk'));
const TYPE_COL = { Low_risk: '#45bcc4', High_risk: '#f08b84' };
const hmRows = { 0.5: 'ZFP36', 1.5: 'ISG15', 2.15: 'Type' };
new Chart(canvas(), {
  type: 'bar',
  data: { labels: hmCols, datasets: [
    { data: hmCols.map(() => [2.03, 2.28]), backgroundColor: hmType.map(t => TYPE_COL[t]) },
    { data: hmCols.map(() => [1, 2]), backgroundColor: isg15Heat.map(heatColor) },
    { data: hmCols.map(() => [0, 1]), backgroundColor: zfp36Heat.map(heatColor) }
  ].map(d => Object.assign(d, { grouped: false, barPercentage: 1, categoryPercentage: 1, borderWidth: 0 })) },
  options: base({
    layout: { padding: pad(322, 550.5, 525, 669, 40, 0, true) },
    scales: {
      x: { display: false },
      y: { type: 'linear', position: 'right', min: 0, max: 2.28, afterBuildTicks: at([0.5, 1.5, 2.15]),
        ticks: { autoSkip: false, padding: 2, color: '#000', callback: v => hmRows[v],
          font: c => ({ size: c.tick && c.tick.value > 2 ? 8 : 8.5, weight: c.tick && c.tick.value > 2 ? 'bold' : 'normal' }) },
        grid: { display: false }, border: { display: false }, afterFit: fitW(40) }
    }
  }),
  plugins: [deco(c => {
    colorbar(c, 570, 548, 9, 125, heatStops);
    heatLegend.forEach(v => text(c, v < 0 ? '\u2212' + Math.abs(v) : String(v), 582.5, 614 - v * 15.5, 8.5));
    text(c, 'Type', 607, 549, 9, { bold: true });
    ['Low_risk', 'High_risk'].forEach((t, i) => {
      c.fillStyle = TYPE_COL[t]; c.fillRect(607, 565.5 + i * 23, 16.5, 13);
      text(c, t, 628, 572 + i * 23, 8.5);
    });
  })]
});

// ---------- I ----------
kmChart({ L: 68, T: 756.3, R: 246.7, B: 911.7, yw: 24, xh: 9.5, xmin: -260, xmax: 5230, ymin: -0.052, ymax: 1.05, ts: 5.8, lw: 1.8,
  curves: [{ name: 'High_risk', color: RED, pts: riskHigh, cens: riskHighCens },
    { name: 'Low_risk', color: BLUE, pts: riskLow, cens: riskLowCens }],
  leg: { x: 190.5, y: 775.7, dy: 9.3, len: 6.5, fs: 9.2 }, pText: 'p = 0.0053', p: { x: 76, y: 876.7, fs: 9 } });
riskTable({ L: 68, T: 941.7, R: 246.7, B: 970, yw: 60, xh: 9.5, xmin: -260, xmax: 5230, ymin: -0.575, ymax: 1.65, ts: 5.8,
  lfs: 10.5, nfs: 6.8, rows: [{ name: 'High_risk', color: '#d7262b', counts: riskAtRisk.high },
    { name: 'Low_risk', color: '#3f66b8', counts: riskAtRisk.low }] });

// ---------- J ----------
const ROC_COL = ['#ef4a22', '#a6d22e', '#3cbfd0'];
const rocSet = (xs, ys, col) => ({ data: xs.map((v, i) => ({ x: v, y: ys[i] })), showLine: true, borderColor: col,
  borderWidth: 2.4, pointRadius: 0 });
new Chart(canvas(), {
  type: 'scatter',
  data: { datasets: [
    rocSet(roc5x, roc5y, ROC_COL[2]), rocSet(roc3x, roc3y, ROC_COL[1]), rocSet(roc1x, roc1y, ROC_COL[0]),
    { data: [{ x: -0.05, y: -0.05 }, { x: 1.05, y: 1.05 }], showLine: true, borderColor: '#000', borderWidth: 0.8, pointRadius: 0 }
  ] },
  options: base({
    layout: { padding: pad(362.3, 758.3, 570, 960, 4, 14) },
    scales: {
      x: Object.assign(rAxis(rocTicks, -0.04, 1.04, 7, 14), { ticks: { autoSkip: false, maxRotation: 0, font: { size: 7 }, color: '#222', padding: 1.5, callback: v => v.toFixed(1) } }),
      y: rAxis(rocTicks, -0.043, 1.137, 7, 4, false)
    }
  }),
  plugins: [frame('#000', 0.8), rotLabels(rocTicks, rocTicks.map(v => v.toFixed(1)), 8.5, 7),
    deco(c => {
      rocLabels.forEach((s, i) => {
        const y = 936.7 + i * 7.8;
        c.save(); c.strokeStyle = ROC_COL[i]; c.lineWidth = 2.2;
        c.beginPath(); c.moveTo(458, y); c.lineTo(472, y); c.stroke(); c.restore();
        text(c, s, 477, y, 6.4, { color: '#222' });
      });
    })]
});

// ---------- free-standing labels ----------
[['A', 8, 9], ['B', 186, 9], ['C', 427, 9], ['D', 8, 180], ['E', 325, 186], ['F', 325, 290], ['G', 6, 468],
  ['H', 290, 527], ['I', 6, 741], ['J', 317, 742]].forEach(l => label(l[0], l[1], l[2], 16, { bold: true, align: 'center' }));

label('Training Set', 465, 289, 11, { bold: true, align: 'center' });
label('ISG15', 341, 297, 9);
label('ZFP36', 515, 297, 9);
label('Survival probability', 323, 368, 8.6, { align: 'center', rot: true });
label('Survival probability', 497, 368, 8.6, { align: 'center', rot: true });
label('Time (Days)', 413, 445, 9.5, { align: 'center' });
label('Time (Days)', 585, 445.7, 9.5, { align: 'center' });
label('Number at risk', 343, 455, 9.5);
label('Number at risk', 517, 455, 9.5);
label('Time (Days)', 412, 500, 9.5, { align: 'center' });
label('Time (Days)', 584, 501.5, 9.5, { align: 'center' });

label('Training Set', 141, 470, 11, { bold: true, align: 'center' });
label('Risk score', 9, 518, 8.8, { align: 'center', rot: true });
label('Patients (increasing risk score)', 140, 570, 9, { align: 'center' });
label('Training Set', 141, 610, 11, { bold: true, align: 'center' });
label('DFS time (days)', 12, 659, 8.5, { align: 'center', rot: true });
label('Patients (increasing risk score)', 140, 716.7, 9, { align: 'center' });

label('Training Set', 423, 543, 11, { bold: true, align: 'center' });

label('Training Set', 157, 745, 11, { bold: true, align: 'center' });
label('Survival probability', 43, 834, 8.8, { align: 'center', rot: true });
label('Time (Days)', 157.7, 924, 9.8, { align: 'center' });
label('Number at risk', 68, 934, 9.8);
label('Time (Days)', 157.7, 983, 9.8, { align: 'center' });

label('SurvivalROC for Training Set', 468, 740, 10.5, { bold: true, align: 'center' });
label('True Positive rate', 341, 855, 8.6, { align: 'center', rot: true });
label('False Positive rate', 469, 986.5, 8.6, { align: 'center' });
</script>
</body>
</html>
